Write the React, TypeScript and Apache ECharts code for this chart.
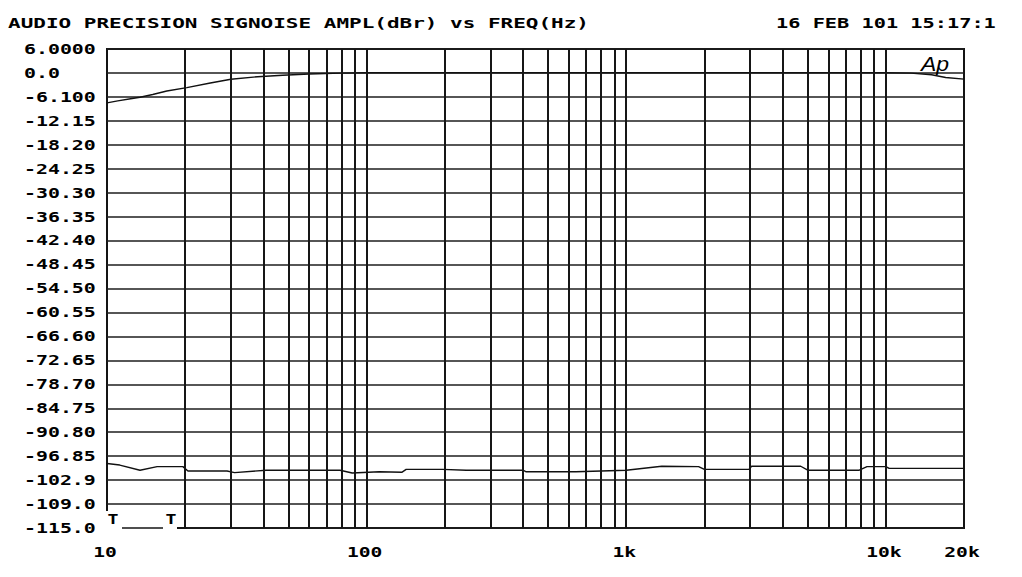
import React, { useEffect, useRef } from "react";
import * as echarts from "echarts";

const titleText = "AUDIO PRECISION SIGNOISE AMPL(dBr) vs FREQ(Hz)";
const dateText = "16 FEB 101 15:17:1";

// y tick labels, top to bottom (21 divisions of 6.05 dB)
const yTickLabels = [
  "6.0000", "0.0", "-6.100", "-12.15", "-18.20", "-24.25", "-30.30",
  "-36.35", "-42.40", "-48.45", "-54.50", "-60.55", "-66.60", "-72.65",
  "-78.70", "-84.75", "-90.80", "-96.85", "-102.9", "-109.0", "-115.0",
];
const xTickValues = [10, 100, 1000, 10000, 20000];
const xTickLabels = ["10", "100", "1k", "10k", "20k"];
const xGridValues = [
  20, 30, 40, 50, 60, 70, 80, 90, 100,
  200, 300, 400, 500, 600, 700, 800, 900, 1000,
  2000, 3000, 4000, 5000, 6000, 7000, 8000, 9000, 10000,
];

// upper trace (frequency response, dBr)
const topFreq = [10, 11, 12.5, 13.4, 15, 17, 20.3, 25, 30, 38, 47.5, 60, 80, 100, 1000, 10000, 12500, 15000, 17000, 20000];
const topDb = [-7.6, -7.1, -6.5, -6.2, -5.5, -4.6, -3.75, -2.6, -1.64, -1.0, -0.63, -0.3, -0.1, 0, 0, 0, -0.1, -0.5, -1.2, -1.6];

// lower trace (noise floor, dBr)
const botFreq = [10, 11.2, 13.4, 15.6, 19.6, 20.5, 29, 31, 41, 79, 88, 112, 137, 142, 196, 242, 400, 412, 640, 1000, 1370, 1900, 2000, 2970, 3040, 4700, 5000, 7900, 8460, 10000, 10300, 20000];
const botDb = [-98.7, -99.1, -100.4, -99.5, -99.5, -100.6, -100.6, -101.0, -100.4, -100.4, -101.1, -100.8, -100.9, -100.2, -100.2, -100.4, -100.4, -100.8, -100.8, -100.4, -99.4, -99.5, -100.2, -100.2, -99.4, -99.4, -100.4, -100.4, -99.5, -99.5, -99.95, -99.95];

const FONT = 'bold 14px "DejaVu Sans Mono"';

export default function App() {
  const ref = useRef<HTMLDivElement>(null);
  useEffect(() => {
    const el = ref.current;
    if (!el) return;
    const chart = echarts.init(el, null, { renderer: "svg" });
    const option: any = {
      animation: false,
      backgroundColor: "#ffffff",
      grid: {
        left: 107, right: 58, top: 49, bottom: 49,
        show: true, borderColor: "#141414", borderWidth: 2, backgroundColor: "transparent",
      },
      xAxis: {
        type: "log", logBase: 10, min: 10, max: 20000,
        axisLine: { show: false }, axisTick: { show: false },
        axisLabel: { show: false }, splitLine: { show: false },
      },
      yAxis: [
        {
          type: "value", min: 0, max: 20, interval: 1,
          axisLine: { show: false }, axisTick: { show: false }, axisLabel: { show: false },
          splitLine: { show: true, lineStyle: { color: "#1e1e1e", width: 1.5 } },
        },
        { type: "value", min: -115, max: 6, show: false, splitLine: { show: false } },
      ],
      series: [
        {
          type: "line", xAxisIndex: 0, yAxisIndex: 1, showSymbol: false, silent: true,
          data: botFreq.map((f, i) => [f, botDb[i]]),
          lineStyle: { color: "#111", width: 1.4 },
          markLine: {
            silent: true, symbol: ["none", "none"], label: { show: false },
            lineStyle: { color: "#161616", width: 2, type: "solid" },
            emphasis: { disabled: true },
            data: xGridValues.map((v) => ({ xAxis: v })),
          },
        },
        {
          type: "line", xAxisIndex: 0, yAxisIndex: 1, showSymbol: false, silent: true,
          data: topFreq.map((f, i) => [f, topDb[i]]),
          lineStyle: { color: "#111", width: 1.4 },
        },
      ],
    };
    chart.setOption(option);

    const graphics: any[] = [];
    graphics.push({
      type: "text", x: 8, y: 23, scaleX: 1.5,
      style: { text: titleText, font: FONT, fill: "#000", textAlign: "left", textVerticalAlign: "middle" },
    });
    graphics.push({
      type: "text", x: 776, y: 23, scaleX: 1.45,
      style: { text: dateText, font: FONT, fill: "#000", textAlign: "left", textVerticalAlign: "middle" },
    });
    yTickLabels.forEach((lab, j) => {
      const py = chart.convertToPixel({ yAxisIndex: 0 } as any, 20 - j) as unknown as number;
      graphics.push({
        type: "text", x: 24, y: py, scaleX: 1.42,
        style: { text: lab, font: FONT, fill: "#000", textAlign: "left", textVerticalAlign: "middle" },
      });
    });
    const bottomPx = chart.convertToPixel({ yAxisIndex: 0 } as any, 0) as unknown as number;
    xTickValues.forEach((v, i) => {
      const px = chart.convertToPixel({ xAxisIndex: 0 } as any, v) as unknown as number;
      graphics.push({
        type: "text", x: px - 2, y: bottomPx + 24, scaleX: 1.4,
        style: { text: xTickLabels[i], font: FONT, fill: "#000", textAlign: "center", textVerticalAlign: "middle" },
      });
    });
    const leftPx = chart.convertToPixel({ xAxisIndex: 0 } as any, 10) as unknown as number;
    // "T____T" marker replacing the start of the bottom frame
    graphics.push({
      type: "rect", shape: { x: leftPx - 3, y: bottomPx - 17, width: 73, height: 20 },
      style: { fill: "#fff" }, z: 10,
    });
    graphics.push({
      type: "text", x: leftPx + 6, y: bottomPx - 9, z: 11, scaleX: 1.3,
      style: { text: "T", font: FONT, fill: "#000", textAlign: "center", textVerticalAlign: "middle" },
    });
    graphics.push({
      type: "text", x: leftPx + 64, y: bottomPx - 9, z: 11, scaleX: 1.3,
      style: { text: "T", font: FONT, fill: "#000", textAlign: "center", textVerticalAlign: "middle" },
    });
    graphics.push({
      type: "line", z: 11,
      shape: { x1: leftPx + 15, y1: bottomPx, x2: leftPx + 56, y2: bottomPx },
      style: { stroke: "#141414", lineWidth: 1.6 },
    });
    graphics.push({
      type: "line", z: 11,
      shape: { x1: leftPx + 70, y1: bottomPx, x2: leftPx + 80, y2: bottomPx },
      style: { stroke: "#141414", lineWidth: 2 },
    });
    // Ap logo
    graphics.push({
      type: "text", x: 935, y: 64, z: 11, scaleX: 1.15,
      style: { text: "Ap", font: 'italic 20px "Liberation Sans"', fill: "#000", textAlign: "center", textVerticalAlign: "middle" },
    });
    chart.setOption({ graphic: graphics });

    return () => chart.dispose();
  }, []);
  return (
    <div
      ref={ref}
      style={{ position: "absolute", left: 0, top: 0, width: 1022, height: 577, background: "#fff" }}
    />
  );
}
